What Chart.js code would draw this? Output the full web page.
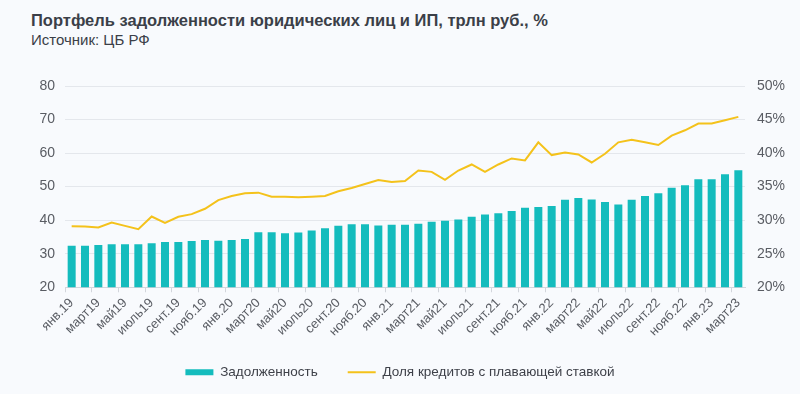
<!DOCTYPE html>
<html>
<head>
<meta charset="utf-8">
<script src="https://cdn.jsdelivr.net/npm/chart.js@4"></script>
<style>
  html, body { margin: 0; padding: 0; background: #f8fafd; }
  #wrap { position: relative; width: 800px; height: 394px; }
  #title { position: absolute; left: 31px; top: 11px; font: bold 16.5px "Liberation Sans", Arial, sans-serif; color: #3b3f48; }
  #sub { position: absolute; left: 31px; top: 31px; font: 15px "Liberation Sans", Arial, sans-serif; color: #3b3f48; }
  canvas { position: absolute; left: 0; top: 0; }
</style>
</head>
<body>
<div id="wrap">
  <div id="title">Портфель задолженности юридических лиц и ИП, трлн руб., %</div>
  <div id="sub">Источник: ЦБ РФ</div>
  <canvas id="chart" width="800" height="394"></canvas>
</div>
<script>
// месяцы янв.19 - март23
const months = [
    'янв.19', 'фев.19', 'март19', 'апр.19', 'май19', 'июнь19', 'июль19', 'авг.19', 'сент.19', 'окт.19', 'нояб.19', 'дек.19',
    'янв.20', 'фев.20', 'март20', 'апр.20', 'май20', 'июнь20', 'июль20', 'авг.20', 'сент.20', 'окт.20', 'нояб.20', 'дек.20',
    'янв.21', 'фев.21', 'март21', 'апр.21', 'май21', 'июнь21', 'июль21', 'авг.21', 'сент.21', 'окт.21', 'нояб.21', 'дек.21',
    'янв.22', 'фев.22', 'март22', 'апр.22', 'май22', 'июнь22', 'июль22', 'авг.22', 'сент.22', 'окт.22', 'нояб.22', 'дек.22',
    'янв.23', 'фев.23', 'март23'
];

// Задолженность, трлн руб.
const debt = [
    32.4, 32.4, 32.6, 32.8, 32.8, 32.8, 33.1, 33.5, 33.5, 33.8, 34.1, 33.9,
    34.1, 34.4, 36.4, 36.4, 36.1, 36.3, 36.9, 37.6, 38.3, 38.8, 38.8, 38.4,
    38.6, 38.6, 38.9, 39.5, 39.8, 40.2, 41.0, 41.7, 42.1, 42.7, 43.7, 43.9,
    44.2, 46.1, 46.6, 46.2, 45.4, 44.7, 46.1, 47.2, 48.0, 49.7, 50.4, 52.2,
    52.2, 53.7, 54.9
];

// Доля кредитов с плавающей ставкой, %
const floatShare = [
    29.1, 29.05, 28.9, 29.65, 29.15, 28.65, 30.55, 29.6, 30.5, 30.9, 31.7, 33.0,
    33.6, 34.0, 34.1, 33.5, 33.5, 33.4, 33.5, 33.6, 34.3, 34.8, 35.4, 36.0,
    35.7, 35.85, 37.4, 37.2, 36.0, 37.4, 38.3, 37.2, 38.3, 39.2, 38.9, 41.6,
    39.7, 40.1, 39.8, 38.6, 39.9, 41.6, 42.0, 41.6, 41.2, 42.6, 43.4, 44.4,
    44.4, 44.9, 45.4
];

const leftTicks = [20, 80, 10];   // min, max, step
const rightTicks = [20, 50, 5];

const FONT = '"Liberation Sans", Arial, sans-serif';
const TEXT = '#595c63';

new Chart(document.getElementById('chart'), {
    data: {
        labels: months,
        datasets: [
            {
                type: 'bar',
                label: 'Задолженность',
                data: debt,
                backgroundColor: '#14bcbd',
                borderWidth: 0,
                barPercentage: 0.6,
                categoryPercentage: 1,
                yAxisID: 'y',
                pointStyle: 'rect',
                order: 2
            },
            {
                type: 'line',
                label: 'Доля кредитов с плавающей ставкой',
                data: floatShare,
                borderColor: '#f4c21b',
                backgroundColor: '#f4c21b',
                borderWidth: 2,
                pointRadius: 0,
                tension: 0,
                yAxisID: 'y1',
                pointStyle: 'line',
                order: 1
            }
        ]
    },
    options: {
        responsive: false,
        animation: false,
        layout: { padding: { top: 86, left: 0, right: 0, bottom: 5 } },
        plugins: {
            tooltip: { enabled: false },
            legend: {
                position: 'bottom',
                labels: {
                    usePointStyle: true,
                    pointStyleWidth: 28,
                    boxHeight: 6,
                    padding: 30,
                    color: '#3e4149',
                    font: { family: FONT, size: 13.5 },
                    sort: (a, b) => a.datasetIndex - b.datasetIndex
                }
            }
        },
        scales: {
            x: {
                offset: true,
                grid: {
                    offset: true,
                    drawOnChartArea: false,
                    drawTicks: true,
                    tickLength: 5,
                    color: ctx => (ctx.index % 2 === 0 ? '#d3d6dc' : 'rgba(0,0,0,0)')
                },
                border: { color: '#d3d6dc' },
                ticks: {
                    autoSkip: false,
                    minRotation: 45,
                    maxRotation: 45,
                    color: TEXT,
                    font: { family: FONT, size: 13 },
                    callback: (v, i) => (i % 2 === 0 ? months[i] : '')
                },
                afterFit: s => { s.height = s.height - 7; }
            },
            y: {
                position: 'left',
                min: leftTicks[0],
                max: leftTicks[1],
                ticks: { stepSize: leftTicks[2], color: TEXT, font: { family: FONT, size: 14 }, padding: 10 },
                grid: { color: '#e4e7ec', drawTicks: false },
                border: { display: false },
                afterFit: s => { s.width = 65; }
            },
            y1: {
                position: 'right',
                min: rightTicks[0],
                max: rightTicks[1],
                ticks: { stepSize: rightTicks[2], color: TEXT, font: { family: FONT, size: 14 }, padding: 12, callback: v => v + '%' },
                grid: { drawOnChartArea: false, drawTicks: false },
                border: { display: false },
                afterFit: s => { s.width = 55; }
            }
        }
    }
});
</script>
</body>
</html>
